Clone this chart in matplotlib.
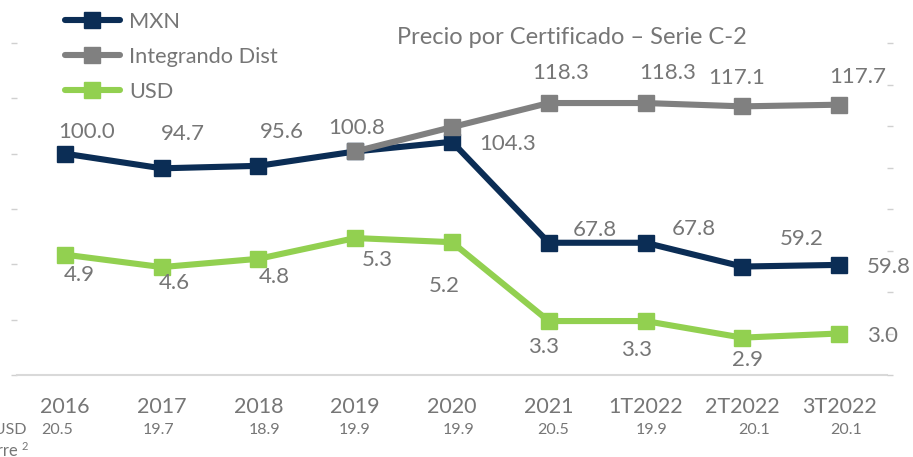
import matplotlib
matplotlib.use("Agg")
import matplotlib.pyplot as plt
from matplotlib.lines import Line2D

plt.rcParams['font.family'] = ['Lato', 'DejaVu Sans']

categories = ["2016", "2017", "2018", "2019", "2020", "2021", "1T2022", "2T2022", "3T2022"]
mxn = [100.0, 94.7, 95.6, 100.8, 104.3, 67.8, 67.8, 59.2, 59.8]
integrando = [None, None, None, 100.8, 109.6, 118.3, 118.3, 117.1, 117.7]
integrando_labels = [None, None, None, None, None, "118.3", "118.3", "117.1", "117.7"]
usd = [4.9, 4.6, 4.8, 5.3, 5.2, 3.3, 3.3, 2.9, 3.0]
fx_rate = ["20.5", "19.7", "18.9", "19.9", "19.9", "20.5", "19.9", "20.1", "20.1"]

# label offsets (pixels) - styling
mxn_off = [(22, 22), (21, 34), (23, 34), (1, 23), (56, -2), (46, 13), (48, 14), (59, 28), (50, -2)]
int_off = [None, None, None, None, None, (12, 30), (22, 30), (-6, 28), (19, 28)]
usd_off = [(14, -20), (13, -16), (16, -18), (22, -22), (-8, -44), (-5, -26), (-9, -29), (5, -22), (43, -2)]
fx_off = [-8, -3, 6, -1, 7, 4, 6, 12, 7]

NAVY = "#0B2D55"
GRAY = "#808080"
GREEN = "#92D050"
TXT = "#767676"

W, H = 913, 457
fig = plt.figure(figsize=(W / 100, H / 100), dpi=100)
ax = fig.add_axes([16.6 / W, 1 - 375 / H, (887.4 - 16.6) / W, (375 - 43) / H])
ax2 = ax.twinx()

x = list(range(len(categories)))
lw, ms = 4.4, 12

ax.plot(x, mxn, color=NAVY, lw=lw, marker='s', ms=ms, solid_capstyle='round', zorder=3)
xi = [i for i, v in enumerate(integrando) if v is not None]
yi = [v for v in integrando if v is not None]
ax.plot(xi, yi, color=GRAY, lw=lw, marker='s', ms=ms, solid_capstyle='round', zorder=4)
ax2.plot(x, usd, color=GREEN, lw=lw, marker='s', ms=ms, solid_capstyle='round', zorder=3)

ax.set_xlim(-0.5, len(categories) - 0.5)
ax.set_ylim(20, 140)
ax2.set_ylim(2, 10)
ax.set_yticks(range(20, 141, 20))
ax2.set_yticks(range(2, 11))
ax.set_yticklabels([])
ax2.set_yticklabels([])
for a in (ax, ax2):
    for s in a.spines.values():
        s.set_visible(False)
    a.tick_params(axis='y', length=4, width=1, color="#d0d0d0")
    a.patch.set_visible(False)
ax.spines['bottom'].set_visible(True)
ax.spines['bottom'].set_color("#d9d9d9")
ax.spines['bottom'].set_linewidth(1.5)
ax.set_xticks(x)
ax.set_xticklabels(categories, fontsize=15.5, color=TXT)
ax.tick_params(axis='x', length=0, pad=16)

fs = 16
for i, v in enumerate(mxn):
    ax.annotate(f"{v:.1f}", (i, v), xytext=(mxn_off[i][0], mxn_off[i][1]), textcoords='offset pixels',
                ha='center', va='center', fontsize=fs, color=TXT, zorder=6)
for i, v in enumerate(integrando):
    if integrando_labels[i] is not None:
        ax.annotate(integrando_labels[i], (i, v), xytext=int_off[i], textcoords='offset pixels',
                    ha='center', va='center', fontsize=fs, color=TXT, zorder=6)
for i, v in enumerate(usd):
    ax2.annotate(f"{v:.1f}", (i, v), xytext=usd_off[i], textcoords='offset pixels',
                 ha='center', va='center', fontsize=fs, color=TXT, zorder=6)

trans = ax.get_xaxis_transform()
for i, r in enumerate(fx_rate):
    ax.annotate(r, (i, 0), xycoords=trans, xytext=(fx_off[i], -55), textcoords='offset pixels',
                ha='center', va='center', fontsize=11.5, color=TXT, annotation_clip=False)

fig.text(27 / W, 1 - 430 / H, "MXN/USD", ha='right', va='center', fontsize=11.5, color=TXT)
fig.text(18 / W, 1 - 451 / H, "Cierre", ha='right', va='center', fontsize=12, color=TXT)
fig.text(22 / W, 1 - 446 / H, "2", ha='left', va='center', fontsize=8, color=TXT)

fig.text(572 / W, 1 - 37 / H, "Precio por Certificado – Serie C-2", ha='center', va='center',
         fontsize=17, color=TXT)

handles = [Line2D([], [], color=c, lw=lw, marker='s', ms=ms, solid_capstyle='round') for c in (NAVY, GRAY, GREEN)]
fig.legend(handles, ["MXN", "Integrando Dist", "USD"], loc='upper left',
           bbox_to_anchor=(65 / W, 1 - 12 / H), frameon=False, fontsize=15.7, labelcolor=TXT,
           handlelength=2.5, handletextpad=0.45, labelspacing=0.68, borderpad=0, borderaxespad=0)

fig.savefig("out.png", dpi=100)
